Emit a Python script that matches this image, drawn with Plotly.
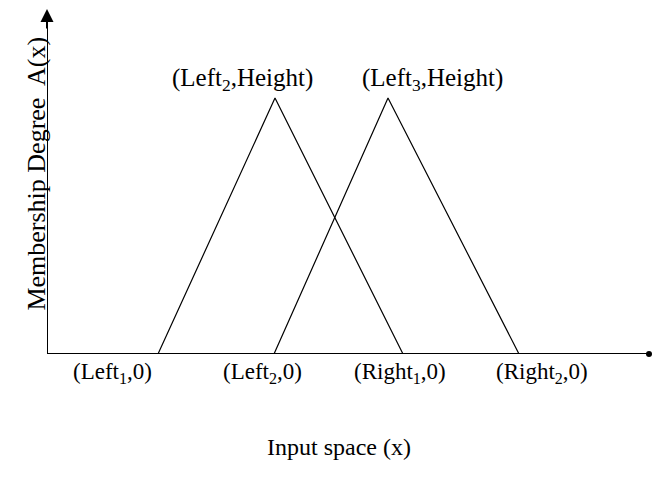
import plotly.graph_objects as go

# Data (input-space units)
tri1_x = [1.11, 2.28, 3.56]
tri1_y = [0, 1, 0]
tri2_x = [2.27, 3.41, 4.72]
tri2_y = [0, 1, 0]
axis_end_x = 6.02
top_labels = ["(Left<sub>2</sub>,Height)", "(Left<sub>3</sub>,Height)"]
bottom_labels = ["(Left<sub>1</sub>,0)", "(Left<sub>2</sub>,0)", "(Right<sub>1</sub>,0)", "(Right<sub>2</sub>,0)"]
x_title = "Input space (x)"
y_title = "Membership Degree  A(x)"

FONT = "Liberation Serif, Times New Roman, serif"

fig = go.Figure()
fig.add_trace(go.Scatter(x=tri1_x, y=tri1_y, mode="lines",
                         line=dict(color="black", width=1.2), hoverinfo="skip"))
fig.add_trace(go.Scatter(x=tri2_x, y=tri2_y, mode="lines",
                         line=dict(color="black", width=1.2), hoverinfo="skip"))

# axes drawn as shapes
fig.add_shape(type="line", xref="x", yref="y", x0=0, x1=axis_end_x, y0=0, y1=0,
              line=dict(color="black", width=2.2))
fig.add_shape(type="line", xref="x", yref="paper", x0=0, x1=0, y0=0, y1=0.99,
              line=dict(color="black", width=2))
fig.add_annotation(xref="x", yref="paper", x=0, y=1.009, ax=0, ay=25,
                   showarrow=True, arrowhead=2, arrowsize=1.3, arrowwidth=2, arrowcolor="black", text="")
fig.add_trace(go.Scatter(x=[axis_end_x], y=[0], mode="markers", marker=dict(color="black", size=6),
                         hoverinfo="skip", cliponaxis=False))

top_x = [tri1_x[1], tri2_x[1]]
top_shift = [-33, 44]
for lab, x, s in zip(top_labels, top_x, top_shift):
    fig.add_annotation(x=x, y=1, text=lab, showarrow=False, xshift=s, yshift=19,
                       font=dict(family=FONT, size=25, color="black"))

bot_x = [tri1_x[0], tri2_x[0], tri1_x[2], tri2_x[2]]
bot_shift = [-46, -12, -3, 23]
for lab, x, s in zip(bottom_labels, bot_x, bot_shift):
    fig.add_annotation(x=x, y=0, text=lab, showarrow=False, xshift=s, yshift=-19,
                       font=dict(family=FONT, size=23, color="black"))

fig.add_annotation(xref="paper", yref="paper", x=0.4756, y=-0.312, text=x_title, showarrow=False,
                   font=dict(family=FONT, size=24, color="black"))
fig.add_annotation(xref="paper", yref="paper", x=0, y=0.52, xshift=-27, text=y_title, showarrow=False,
                   textangle=-90, font=dict(family=FONT, size=26, color="black"))

fig.update_layout(
    width=653, height=471,
    margin=dict(l=39, r=0, t=0, b=125, autoexpand=False),
    plot_bgcolor="white", paper_bgcolor="white",
    showlegend=False,
    xaxis=dict(range=[0, 6.14], visible=False, fixedrange=True),
    yaxis=dict(range=[0, 1.3516], visible=False, fixedrange=True),
)
fig.write_html("out.html")
